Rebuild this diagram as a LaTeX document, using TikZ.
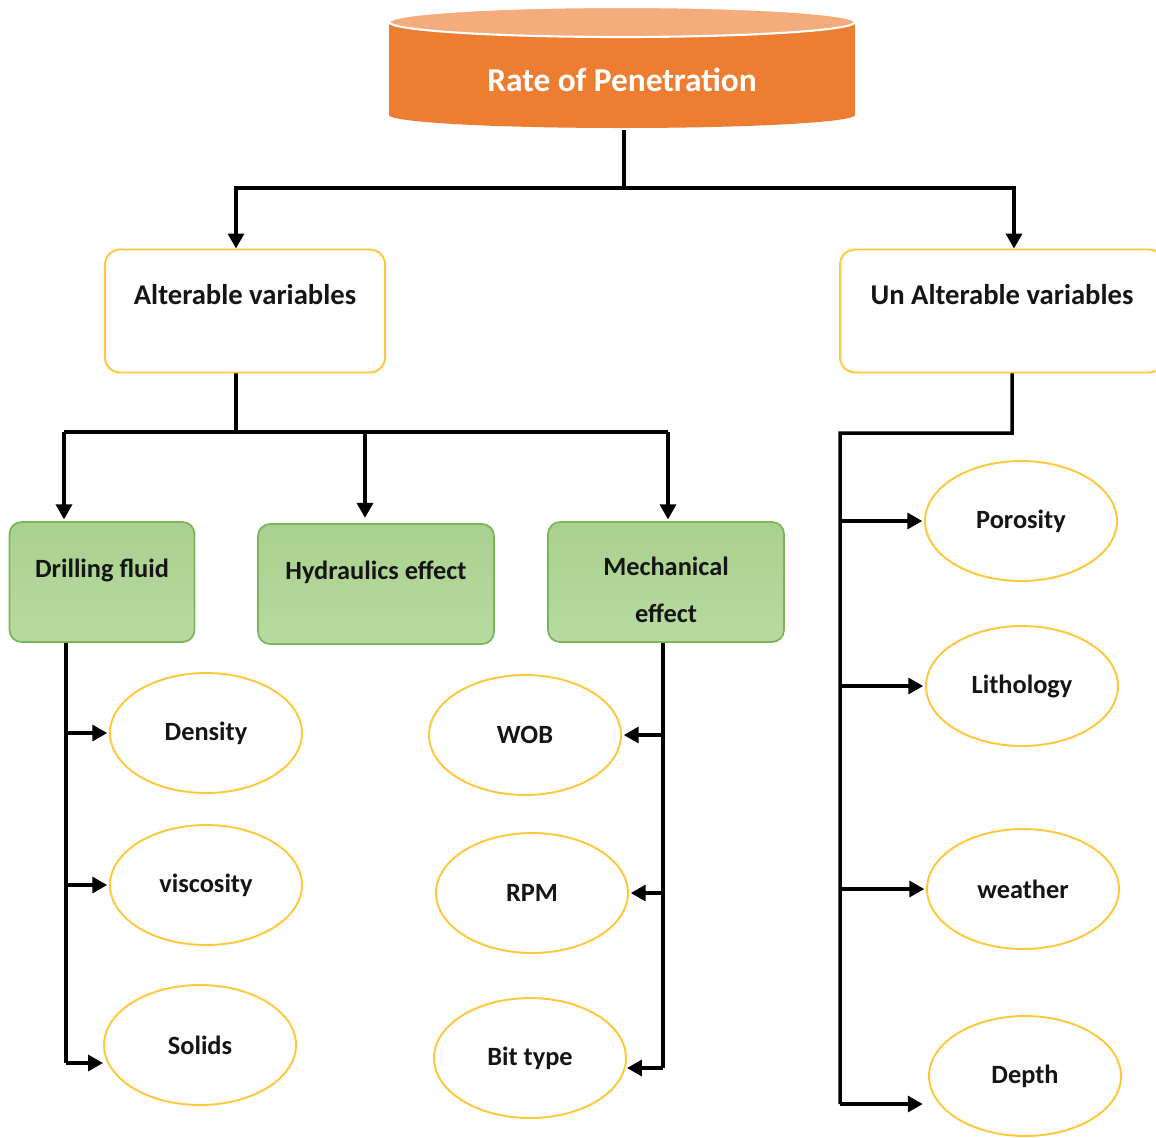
\documentclass[tikz,border=0pt]{standalone}
\usepackage{fontspec}
\setmainfont{Carlito}
\usetikzlibrary{arrows.meta,shapes.geometric}
\definecolor{ropbody}{HTML}{ED7D31}
\definecolor{roptop}{HTML}{F4AC7C}
\definecolor{goldline}{HTML}{FFC83A}
\definecolor{greenfill}{HTML}{A9D18E}
\definecolor{greenlight}{HTML}{B8DAA0}
\definecolor{greenline}{HTML}{7AB55C}
\definecolor{inktext}{HTML}{151515}
\tikzset{
  link/.style={line width=2pt, black},
  arr/.style={link, -{Triangle[length=8.5pt,width=9pt]}},
  varbox/.style={draw=goldline, line width=1.1pt, rounded corners=3mm, fill=white,
    minimum width=56mm, minimum height=24.6mm, text height=4mm, text depth=6.8mm,
    font=\bfseries\fontsize{16.3}{19}\selectfont, text=inktext},
  groupbox/.style={draw=greenline, line width=1pt, rounded corners=2.4mm,
    top color=greenfill, bottom color=greenlight, minimum height=24mm,
    font=\bfseries\fontsize{15}{18}\selectfont, text=inktext, align=center},
  factor/.style={ellipse, draw=goldline, line width=1.1pt, fill=white, inner sep=0pt,
    minimum width=38.4mm, minimum height=24mm,
    font=\bfseries\fontsize{15}{18}\selectfont, text=inktext},
}
\begin{document}
\begin{tikzpicture}[x=0.02cm, y=-0.02cm]
\useasboundingbox (0,0) rectangle (1156,1137);

% Drawing cylinder of rate of penetration
\fill [ropbody] (389,22) rectangle (855,115);%
\fill [ropbody] (622,115) ellipse [x radius=233, y radius=13];%
\filldraw [fill=roptop, draw=white, line width=1.2pt] (622,22) ellipse [x radius=233, y radius=15];%
\node [font=\bfseries\fontsize{19}{22}\selectfont, text=white] (rop) at (622,80) {Rate of Penetration};%
\coordinate (ropbase) at (624,130);
\coordinate (topsplit) at (624,188);

% Marking variable boxes
\node [varbox] (alt) at (245,311) {Alterable variables};%
\node [varbox, minimum width=64.8mm] (unalt) at (1002,311) {Un Alterable variables};%

% Marking green group boxes
\node [groupbox, minimum width=37mm, text height=4mm, text depth=6mm] (drill) at (102,582) {Drilling fluid};%
\node [groupbox, minimum width=47.2mm, text height=4mm, text depth=6mm] (hyd) at (376,584) {Hydraulics effect};%
\node [groupbox, minimum width=47.2mm] (mech) at (666,582) {\rule{0pt}{6.8mm}Mechanical\\[9pt]effect};%

% Marking factor ellipses
\node [factor] (density) at (206,733) {Density};%
\node [factor] (viscosity) at (206,885) {viscosity};%
\node [factor] (solids) at (200,1045) {Solids};%
\node [factor] (wob) at (525,735) {WOB};%
\node [factor] (rpm) at (532,893) {RPM};%
\node [factor] (bittype) at (530,1058) {Bit type};%
\node [factor] (porosity) at (1021,521) {Porosity};%
\node [factor] (lithology) at (1022,686) {Lithology};%
\node [factor] (weather) at (1023,889) {weather};%
\node [factor] (depth) at (1025,1076) {Depth};%

% Drawing split under rate of penetration
\draw [link] (ropbase) -- (topsplit);%
\draw [arr] (topsplit) -| ([xshift=-1.8mm]alt.north);%
\draw [arr] (topsplit) -| ([xshift=2.4mm]unalt.north);%

% Drawing split under alterable variables
\coordinate (altleft) at (64,432);
\coordinate (altmid) at (365,432);
\coordinate (altright) at (668,432);
\draw [link] ([xshift=-1.8mm]alt.south) -- (altleft -| 236,0);%
\draw [link] (altleft) -- (altright);%
\draw [arr] (altleft) -- ([yshift=1pt]altleft |- drill.north);%
\draw [arr] (altmid) -- ([yshift=3pt]altmid |- hyd.north);%
\draw [arr] (altright) -- ([yshift=1pt]altright |- mech.north);%

% Drawing drilling fluid branch
\coordinate (drillend) at (66,1063);
\draw [link] (drillend |- drill.south) -- (drillend);%
\draw [arr] (drillend |- density.west) -- ([xshift=-1pt]density.west);%
\draw [arr] (drillend |- viscosity.west) -- ([xshift=-1pt]viscosity.west);%
\draw [arr] (drillend) -- (drillend -| solids.west);%

% Drawing mechanical effect branch
\coordinate (mechend) at (663,1068);
\draw [link] (mechend |- mech.south) -- (mechend);%
\draw [arr] (mechend |- wob.east) -- ([xshift=1pt]wob.east);%
\draw [arr] (mechend |- rpm.east) -- ([xshift=1pt]rpm.east);%
\draw [arr] (mechend) -- (mechend -| bittype.east);%

% Drawing un alterable variables branch
\coordinate (unaltbend) at (1012,433);
\coordinate (unaltend) at (840,1104);
\draw [link] ([xshift=2mm]unalt.south) -- (unaltbend) -- (unaltend |- unaltbend) -- (unaltend);%
\draw [arr] (unaltend |- porosity.west) -- ([xshift=-1pt]porosity.west);%
\draw [arr] (unaltend |- lithology.west) -- ([xshift=-1pt]lithology.west);%
\draw [arr] (unaltend |- weather.west) -- ([xshift=-1pt]weather.west);%
\draw [arr] (unaltend) -- ([xshift=-3pt]unaltend -| depth.west);%
\end{tikzpicture}
\end{document}
